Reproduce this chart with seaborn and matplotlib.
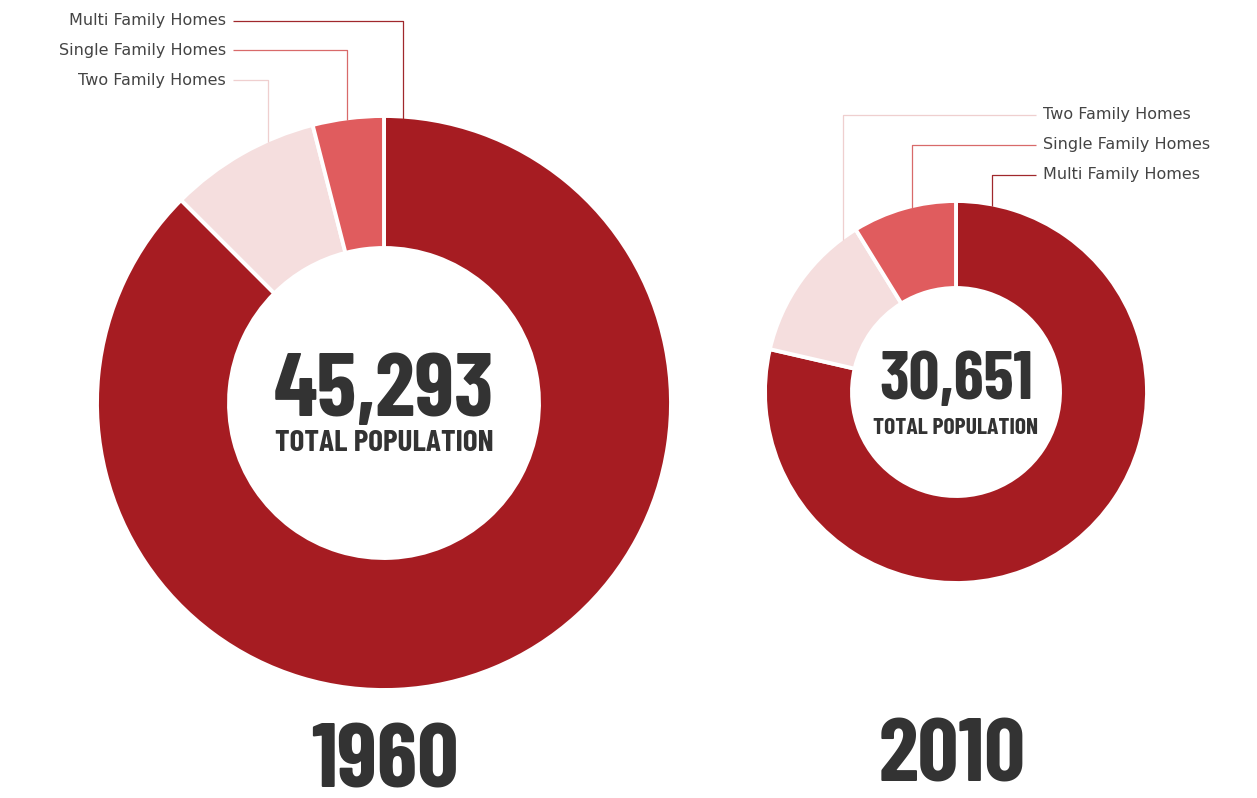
import numpy as np
import matplotlib
matplotlib.use("Agg")
import matplotlib.pyplot as plt
import seaborn as sns

# ---------------- data ----------------
categories = ["Multi Family Homes", "Two Family Homes", "Single Family Homes"]
share_1960 = [87.5, 8.5, 4.0]      # percent of housing
share_2010 = [78.6, 12.6, 8.8]
total_1960 = "45,293"
total_2010 = "30,651"
years = ["1960", "2010"]
center_label = "TOTAL POPULATION"

# ---------------- style ----------------
sns.set_theme(style="white")
colors = {"Multi Family Homes": "#A61C22",
          "Two Family Homes": "#F5DEDE",
          "Single Family Homes": "#E05C5E"}
line_colors = {"Multi Family Homes": "#A0282C",
               "Two Family Homes": "#EFCFCF",
               "Single Family Homes": "#D86A6A"}
TXT = "#333333"
COND = ["Barlow Condensed", "DejaVu Sans"]

W, H = 1257, 798
fig = plt.figure(figsize=(W / 100, H / 100), dpi=100)
ax = fig.add_axes([0, 0, 1, 1])


def Y(py):
    return H - py


charts = [
    dict(shares=share_1960, total=total_1960, year=years[0],
         cx=384, cy=403, r=287, rin=155,
         num_size=65, num_base=416, lab_size=22.5, lab_base=451,
         year_x=385, year_base=788, year_size=66,
         leaders=[("Multi Family Homes", 21, 3.8),
                  ("Single Family Homes", 50, -7.4),
                  ("Two Family Homes", 80, -23.8)],
         side="left", text_x=226),
    dict(shares=share_2010, total=total_2010, year=years[1],
         cx=956, cy=392, r=191, rin=104,
         num_size=49, num_base=399, lab_size=17, lab_base=434,
         year_x=952, year_base=782, year_size=65,
         leaders=[("Two Family Homes", 115, -36.3),
                  ("Single Family Homes", 145, -13.3),
                  ("Multi Family Homes", 175, 10.9)],
         side="right", text_x=1043),
]

for c in charts:
    ax.pie(c["shares"], colors=[colors[k] for k in categories],
           startangle=90, counterclock=False,
           center=(c["cx"], Y(c["cy"])), radius=c["r"], frame=True,
           wedgeprops=dict(width=c["r"] - c["rin"], edgecolor="white",
                           linewidth=2.8))

    ax.text(c["cx"], Y(c["num_base"]), c["total"], ha="center", va="baseline",
            fontsize=c["num_size"], fontweight="bold", color=TXT, family=COND)
    ax.text(c["cx"], Y(c["lab_base"]), center_label, ha="center", va="baseline",
            fontsize=c["lab_size"], fontweight="bold", color=TXT, family=COND)
    ax.text(c["year_x"], Y(c["year_base"]), c["year"], ha="center", va="baseline",
            fontsize=c["year_size"], fontweight="bold", color=TXT, family=COND)

    for cat, ly, ang in c["leaders"]:
        th = np.deg2rad(ang)
        ax_x = c["cx"] + c["r"] * np.sin(th)
        ax_y = c["cy"] - c["r"] * np.cos(th)
        if c["side"] == "left":
            x0 = c["text_x"] + 7
            ax.text(c["text_x"], Y(ly), cat, ha="right", va="center",
                    fontsize=11.5, color="#444444", family=["DejaVu Sans"])
        else:
            x0 = c["text_x"] - 7
            ax.text(c["text_x"], Y(ly), cat, ha="left", va="center",
                    fontsize=11.5, color="#444444", family=["DejaVu Sans"])
        ax.plot([x0, ax_x, ax_x], [Y(ly), Y(ly), Y(ax_y + 2)],
                color=line_colors[cat], linewidth=0.9, solid_capstyle="butt")

ax.set_xlim(0, W)
ax.set_ylim(0, H)
ax.set_aspect("equal")
ax.axis("off")
fig.savefig("out.png", dpi=100, facecolor="white")
